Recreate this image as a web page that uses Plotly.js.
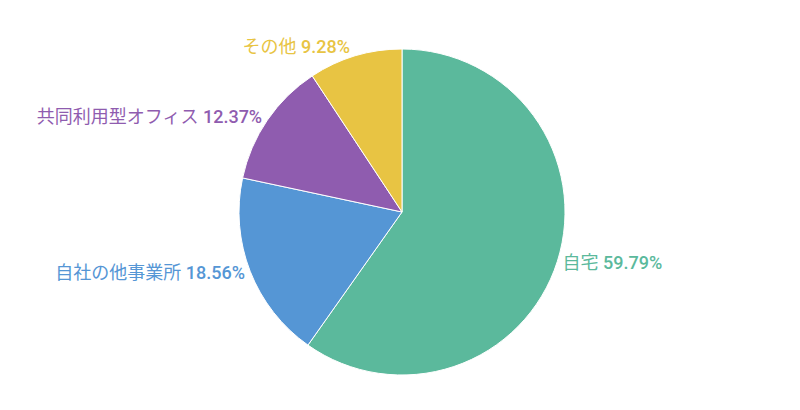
<!DOCTYPE html>
<html><head><meta charset="utf-8">
<script src="https://cdn.plot.ly/plotly-3.0.1.min.js"></script>
<style>html,body{margin:0;padding:0;background:#fff}#chart{width:800px;height:410px}</style>
</head><body><div id="chart"></div>
<script>
const categories = ["自宅", "自社の他事業所", "共同利用型オフィス", "その他"];
const shares = [59.79, 18.56, 12.37, 9.28];
const colors = ["#5bb99c", "#5596d5", "#8f5caf", "#e8c443"];

const labelFont = {family: 'Roboto, "Noto Sans CJK JP", sans-serif', size: 18, color: colors};
const trace = {
  type: 'pie',
  labels: categories,
  values: shares,
  sort: false,
  direction: 'clockwise',
  rotation: 0,
  marker: {colors: colors, line: {color: '#ffffff', width: 1}},
  textposition: 'outside',
  texttemplate: '%{label} <span style="font-weight:500">%{value:.2f}%</span>',
  textfont: labelFont,
  outsidetextfont: labelFont,
  hoverinfo: 'label+percent',
  domain: {x: [0.29875, 0.70625], y: [0, 1]},
  showlegend: false
};
Plotly.newPlot('chart', [trace], {
  width: 800, height: 410,
  margin: {l: 0, r: 0, t: 49, b: 35},
  paper_bgcolor: '#fff',
  showlegend: false
}, {staticPlot: true});
</script></body></html>
